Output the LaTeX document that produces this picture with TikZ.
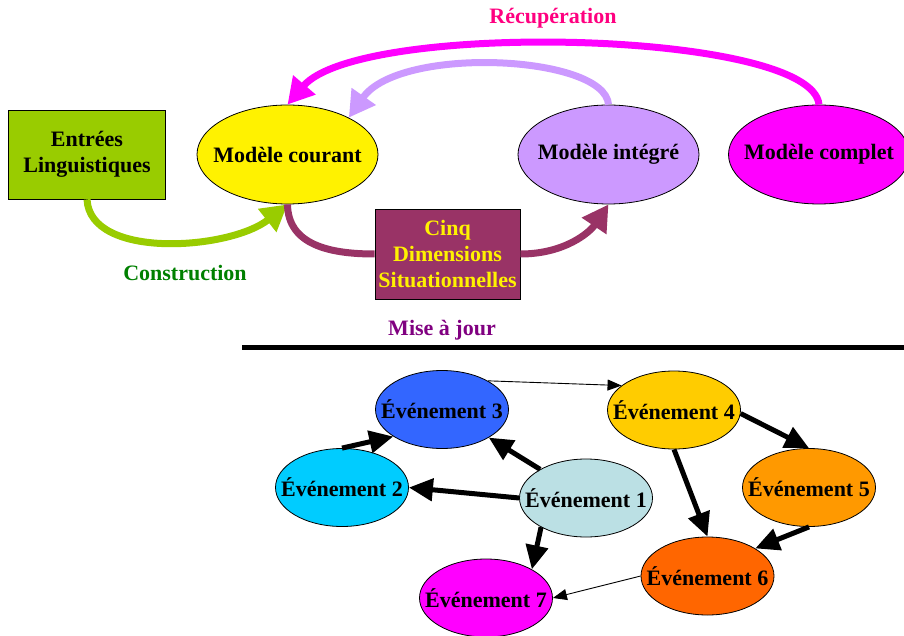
\documentclass[tikz,border=0pt]{standalone}
\usepackage{fontspec}
\setmainfont{Liberation Serif}
\usetikzlibrary{shapes.geometric,arrows.meta}
\definecolor{recup}{RGB}{255,0,128}
\definecolor{constr}{RGB}{0,128,0}
\definecolor{majour}{RGB}{128,0,128}
\definecolor{lingu}{RGB}{153,204,0}
\definecolor{situ}{RGB}{153,51,102}
\definecolor{lavande}{RGB}{204,153,255}
\definecolor{magenta}{RGB}{255,0,255}
\definecolor{ev1}{RGB}{187,224,228}
\definecolor{ev2}{RGB}{0,204,255}
\definecolor{ev3}{RGB}{51,102,255}
\definecolor{ev4}{RGB}{255,204,0}
\definecolor{ev5}{RGB}{255,153,0}
\definecolor{ev6}{RGB}{255,102,0}
\newcommand{\ctext}[1]{\makebox[0pt]{#1}}
\tikzset{
  every node/.style={font=\fontsize{22}{26}\selectfont\bfseries},
  model/.style={ellipse,draw,line width=0.8pt,minimum width=181pt,minimum height=99pt,inner sep=0pt},
  event/.style={ellipse,draw,line width=0.8pt,minimum width=133pt,minimum height=78pt,inner sep=0pt},
  panel/.style={rectangle,draw,line width=0.8pt,align=center,inner sep=0pt},
  bigarrow/.style={line width=7pt,-{Triangle[length=26pt,width=28pt]}},
  fatlink/.style={line width=5pt,-{Triangle[length=24pt,width=22pt]}},
  thinlink/.style={line width=0.9pt,-{Triangle[length=14pt,width=11pt]}}
}
\begin{document}
\begin{tikzpicture}[x=1pt,y=-1pt]
  \useasboundingbox (0,0) rectangle (904,636);
  % top part
  \draw
    (87,154.5) node[panel,fill=lingu,minimum width=157pt,minimum height=89pt] (entrees){Entrées\\Linguistiques}
    (287.5,154.5) node[model,fill=yellow] (courant){\ctext{Modèle courant}}
    (608.5,154.5) node[model,fill=lavande] (integre){\ctext{Modèle intégré}}
    (819,154.5) node[model,fill=magenta] (complet){\ctext{Modèle complet}}
    (447.5,254) node[panel,fill=situ,text=yellow,minimum width=145pt,minimum height=90pt] (cinq){Cinq\\Dimensions\\Situationnelles}
    (553,18) node[text=recup] (recuperation){Récupération}
    (185,273) node[text=constr] (construction){Construction}
    (442,330) node[text=majour] (miseajour){Mise à jour};
  \begin{scope}[bigarrow]
    \draw[magenta] (complet.north) .. controls (812,30) and (360,20) .. (courant.north);
    \draw[lavande] (integre.north) .. controls (605,55) and (400,45) .. (courant.31);
    \draw[lingu] (entrees.south) .. controls (90,260) and (230,250) .. (courant.south);
    \draw[situ,-] (courant.south) .. controls (288,245) and (330,254) .. (cinq.west);
    \draw[situ] (cinq.east) .. controls (565,254) and (590,232) .. (integre.south);
  \end{scope}
  \coordinate (regle) at (242,347.5);
  \coordinate (regleend) at (904,347.5);
  \draw[line width=5pt] (regle) -- (regleend);
  % events
  \draw
    (586,498) node[event,fill=ev1] (e1){\ctext{Événement 1}}
    (342,487.5) node[event,fill=ev2] (e2){\ctext{Événement 2}}
    (442,409.5) node[event,fill=ev3] (e3){\ctext{Événement 3}}
    (674,410) node[event,fill=ev4] (e4){\ctext{Événement 4}}
    (809,487.5) node[event,fill=ev5] (e5){\ctext{Événement 5}}
    (707.5,576) node[event,fill=ev6] (e6){\ctext{Événement 6}}
    (486,598) node[event,fill=magenta] (e7){\ctext{Événement 7}};
  \begin{scope}[fatlink]
    \draw (e1.148) to (e3.-31);
    \draw (e1.west) to (e2.east);
    \draw (e2.north) to (e3.-151);
    \draw (e1.-147) to (e7.32);
    \draw (e4.south) to (e6.north);
    \draw (e4.-3) to (e5.north);
    \draw (e5.south) to (e6.30);
  \end{scope}
  \begin{scope}[thinlink]
    \draw (e3.32) to (e4.155);
    \draw (e6.west) to (e7.east);
  \end{scope}
\end{tikzpicture}
\end{document}
